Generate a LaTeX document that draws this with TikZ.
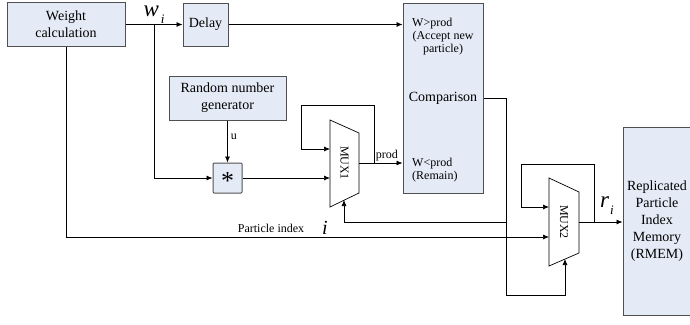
\documentclass[tikz,border=0pt]{standalone}
\usepackage{fontspec}
\setmainfont{Liberation Serif}
\usetikzlibrary{arrows.meta,positioning,calc}
\definecolor{boxfill}{RGB}{229,235,246}
\definecolor{boxline}{RGB}{80,80,80}
\newcommand{\sz}[1]{\fontsize{#1}{#1}\selectfont}

\begin{document}
\begin{tikzpicture}[x=1pt,y=-1pt,font=\sz{14},
  blk/.style={draw=boxline,fill=boxfill,line width=1pt,inner sep=0pt,align=center,font=\fontsize{14}{17}\selectfont},
  wire/.style={line width=0.7pt},
  arr/.style={wire,-{Latex[length=6pt,width=5pt]}},
  lbl/.style={font=\sz{12},inner sep=1pt}]
  \useasboundingbox (0,0) rectangle (690,324);
  % blocks
  \node[blk,minimum width=118pt,minimum height=44pt] (wc) at (66,24.5) {Weight\\calculation};
  \node[blk,minimum width=45pt,minimum height=43pt] (delay) at (205.5,24.5) {Delay};
  \node[blk,minimum width=117pt,minimum height=44pt] (rng) at (227.5,98) {Random number\\generator};
  \node[blk,rounded corners=1pt,minimum width=29pt,minimum height=30pt] (mult) at (227.5,178) {};
  \node[inner sep=0pt,font=\sz{26}] (star) at (227.5,181) {*};
  \node[blk,minimum width=80pt,minimum height=190pt] (comp) at (443,98) {};
  \node[blk,minimum width=68pt,minimum height=188pt] (rmem) at (657,221) {Replicated\\Particle\\Index\\Memory\\(RMEM)};
  \node (cmptxt) at (443,98) {Comparison};
  \node[lbl,anchor=west] (wgt) at (411,24) {W>prod};
  \node[lbl,align=center,font=\fontsize{12}{13}\selectfont] (accept) at (443,43.5) {(Accept new\\particle)};
  \node[lbl,anchor=west,align=left,font=\fontsize{12}{13}\selectfont] (wlt) at (411,170) {W<prod\\(Remain)};
  % multiplexers
  \draw[wire] (330,120) -- (359,133) -- (359,193) -- (330,207) -- cycle;
  \node[lbl,rotate=-90] (mux1) at (344.5,163) {MUX1};
  \coordinate (m1in1) at (330,149);
  \coordinate (m1in2) at (330,178);
  \coordinate (m1out) at (359,163);
  \coordinate (m1sel) at (344,200);
  \draw[wire] (549,178) -- (579,192) -- (579,253) -- (549,266) -- cycle;
  \node[lbl,rotate=-90] (mux2) at (564,222) {MUX2};
  \coordinate (m2in1) at (549,207);
  \coordinate (m2in2) at (549,237);
  \coordinate (m2out) at (579,222);
  \coordinate (m2sel) at (565,259);
  % connections
  \draw[arr] (wc.east) -- (delay.west);
  \node[inner sep=0pt] (wlbl) at (154,15) {\sz{23}\itshape w\raisebox{-7pt}{\sz{13}\hspace{2pt}i}};
  \coordinate (wsplit) at (154,24.5);
  \draw[arr] (wsplit) |- (mult.west);
  \draw[arr] (rng) -- node[lbl,right=2pt,pos=0.4] (ulbl) {u} (mult);
  \draw[arr] (mult.east) -- (m1in2);
  \draw[arr] (m1out) -- node[lbl,above=1pt,pos=0.64] (prod) {prod} (comp.west |- m1out);
  \coordinate (m1tap) at (374,163);
  \draw[arr] (m1tap) |- (301,105) |- (m1in1);
  \draw[arr] (delay.east) -- (comp.west |- delay.east);
  \draw[arr] (comp.east) -| (506,295) -| (m2sel);
  \draw[arr] (506,222) -| (m1sel);
  \draw[arr] (wc.south) |- (m2in2);
  \node[lbl] (pidx) at (271,228) {Particle index};
  \node[inner sep=0pt] (ilbl) at (325,228) {\sz{20}\itshape i};
  \draw[arr] (m2out) -- (rmem.west |- m2out);
  \coordinate (m2tap) at (594,222);
  \draw[arr] (m2tap) |- (521,164) |- (m2in1);
  \node[inner sep=0pt] (rlbl) at (607,206) {\sz{23}\itshape r\raisebox{-7pt}{\sz{13}\hspace{1pt}i}};
\end{tikzpicture}
\end{document}
